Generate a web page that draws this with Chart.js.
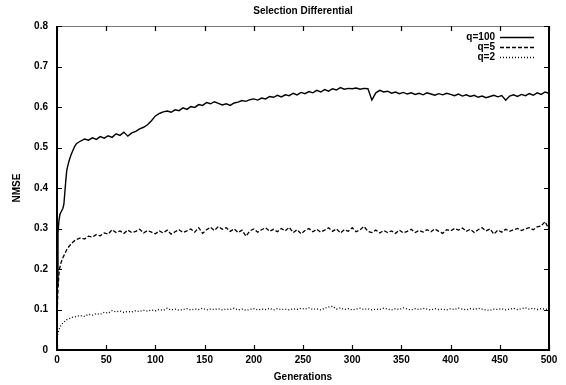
<!DOCTYPE html>
<html><head><meta charset="utf-8">
<script src="https://cdn.jsdelivr.net/npm/chart.js@4/dist/chart.umd.min.js"></script>
<style>html,body{margin:0;padding:0;background:#fff}</style>
</head><body>
<canvas id="c" width="566" height="385"></canvas>
<script>
const generations = [0,1,2,3,4,5,6,7,8,9,10,12,14,16,18,20,
24,28,32,36,40,44,48,52,56,60,
64,68,72,76,80,84,88,92,96,100,
104,108,112,116,120,124,128,132,136,140,
144,148,152,156,160,164,168,172,176,180,
184,188,192,196,200,204,208,212,216,220,
224,228,232,236,240,244,248,252,256,260,
264,268,272,276,280,284,288,292,296,300,
304,308,312,316,320,324,328,332,336,340,
344,348,352,356,360,364,368,372,376,380,
384,388,392,396,400,404,408,412,416,420,
424,428,432,436,440,444,448,452,456,460,
464,468,472,476,480,484,488,492,496,500];

const q100 = [0.16,0.29,0.32,0.335,0.34,0.345,0.35,0.36,0.39,0.42,0.445,0.465,0.48,0.492,0.503,0.51,
0.516,0.521,0.518,0.524,0.520,0.527,0.523,0.529,0.525,0.534,
0.530,0.538,0.528,0.536,0.540,0.546,0.550,0.556,0.566,0.578,
0.584,0.588,0.590,0.587,0.593,0.591,0.598,0.594,0.601,0.599,
0.606,0.604,0.611,0.608,0.613,0.609,0.605,0.608,0.604,0.610,
0.612,0.616,0.614,0.618,0.620,0.617,0.622,0.620,0.626,0.624,
0.629,0.625,0.630,0.628,0.634,0.630,0.636,0.633,0.638,0.635,
0.641,0.637,0.643,0.639,0.645,0.642,0.648,0.644,0.646,0.645,
0.647,0.644,0.646,0.645,0.617,0.635,0.641,0.637,0.639,0.634,
0.637,0.633,0.636,0.632,0.635,0.631,0.634,0.630,0.635,0.632,
0.629,0.633,0.630,0.634,0.631,0.628,0.632,0.627,0.630,0.626,
0.629,0.624,0.627,0.623,0.626,0.629,0.625,0.628,0.617,0.627,
0.630,0.626,0.631,0.628,0.633,0.629,0.635,0.631,0.637,0.634];

const q5 = [0.08,0.15,0.19,0.205,0.215,0.222,0.228,0.233,0.238,0.243,0.248,0.255,0.261,0.266,0.27,0.273,
0.277,0.274,0.281,0.279,0.285,0.282,0.289,0.286,0.297,0.290,
0.294,0.288,0.296,0.290,0.293,0.298,0.289,0.295,0.291,0.287,
0.294,0.289,0.296,0.286,0.292,0.297,0.290,0.294,0.299,0.291,
0.302,0.288,0.297,0.303,0.295,0.305,0.298,0.302,0.293,0.299,
0.290,0.296,0.281,0.294,0.299,0.291,0.297,0.302,0.293,0.298,
0.292,0.300,0.294,0.303,0.290,0.297,0.287,0.295,0.300,0.292,
0.298,0.291,0.296,0.302,0.293,0.299,0.289,0.297,0.293,0.302,
0.292,0.297,0.305,0.293,0.290,0.296,0.289,0.295,0.290,0.294,
0.288,0.296,0.289,0.293,0.298,0.290,0.295,0.291,0.297,0.292,
0.299,0.293,0.288,0.297,0.294,0.300,0.296,0.301,0.293,0.298,
0.290,0.297,0.302,0.294,0.299,0.286,0.296,0.291,0.298,0.293,
0.297,0.300,0.295,0.299,0.302,0.297,0.304,0.306,0.317,0.298];

const q2 = [0.03,0.042,0.05,0.056,0.06,0.064,0.067,0.069,0.071,0.073,0.075,0.077,0.079,0.081,0.082,0.083,
0.085,0.083,0.088,0.086,0.090,0.088,0.093,0.091,0.097,0.094,
0.096,0.093,0.095,0.094,0.097,0.095,0.098,0.096,0.099,0.097,
0.100,0.098,0.103,0.099,0.101,0.098,0.100,0.102,0.099,0.101,
0.100,0.103,0.099,0.101,0.100,0.102,0.099,0.101,0.100,0.103,
0.099,0.101,0.098,0.100,0.102,0.099,0.101,0.100,0.103,0.099,
0.102,0.100,0.101,0.099,0.102,0.100,0.103,0.101,0.104,0.100,
0.102,0.099,0.103,0.106,0.108,0.101,0.104,0.100,0.102,0.099,
0.101,0.103,0.100,0.102,0.099,0.101,0.100,0.103,0.101,0.099,
0.102,0.100,0.104,0.101,0.099,0.102,0.100,0.103,0.101,0.099,
0.102,0.100,0.101,0.099,0.102,0.100,0.103,0.101,0.099,0.102,
0.100,0.103,0.101,0.099,0.098,0.101,0.100,0.102,0.099,0.101,
0.103,0.100,0.102,0.104,0.101,0.103,0.100,0.102,0.101,0.100];

const xTicks = [0,50,100,150,200,250,300,350,400,450,500];
const yTicks = [0,0.1,0.2,0.3,0.4,0.5,0.6,0.7,0.8];
const seriesLabels = ['q=100','q=5','q=2'];
const chartTitle = 'Selection Differential';
const xTitle = 'Generations';
const yTitle = 'NMSE';

const FONT = '"Liberation Sans", Arial, sans-serif';
const dashes = [[], [4,2], [1,2]];
const widths = [1.4, 1.3, 1.3];
const seriesData = [q100, q5, q2];

const datasets = seriesData.map((arr, i) => ({
  label: seriesLabels[i],
  data: generations.map((g, j) => ({x: g, y: arr[j]})),
  borderColor: '#000',
  borderWidth: widths[i],
  borderDash: dashes[i],
  pointRadius: 0,
  tension: 0,
  fill: false
}));

const decor = {
  id: 'decor',
  afterDraw(chart) {
    const ctx = chart.ctx;
    const a = chart.chartArea;
    const xs = chart.scales.x, ys = chart.scales.y;
    ctx.save();
    ctx.strokeStyle = '#000';
    ctx.lineWidth = 2;
    ctx.beginPath();
    ctx.moveTo(a.left, a.top); ctx.lineTo(a.left, a.bottom); ctx.lineTo(a.right, a.bottom); ctx.lineTo(a.right, a.top);
    ctx.stroke();
    ctx.lineWidth = 1;
    ctx.strokeStyle = '#777';
    ctx.beginPath(); ctx.moveTo(a.left, a.top + 0.5); ctx.lineTo(a.right, a.top + 0.5); ctx.stroke();
    ctx.strokeStyle = '#000';
    ctx.lineWidth = 1.2;
    const tl = 5;
    ctx.beginPath();
    xTicks.forEach(v => {
      const px = Math.round(xs.getPixelForValue(v)) + 0.5;
      ctx.moveTo(px, a.bottom); ctx.lineTo(px, a.bottom - tl);
      ctx.moveTo(px, a.top); ctx.lineTo(px, a.top + tl);
    });
    yTicks.forEach(v => {
      const py = Math.round(ys.getPixelForValue(v)) + 0.5;
      ctx.moveTo(a.left, py); ctx.lineTo(a.left + tl, py);
      ctx.moveTo(a.right, py); ctx.lineTo(a.right - tl, py);
    });
    ctx.stroke();
    ctx.fillStyle = '#000';
    ctx.font = 'bold 10px ' + FONT;
    ctx.textAlign = 'center';
    ctx.textBaseline = 'middle';
    const cx = (a.left + a.right) / 2;
    ctx.fillText(chartTitle, cx, 11);
    ctx.fillText(xTitle, cx, 377);
    ctx.save();
    ctx.translate(17, (a.top + a.bottom) / 2);
    ctx.rotate(-Math.PI / 2);
    ctx.fillText(yTitle, 0, 0);
    ctx.restore();
    ctx.font = 'bold 10px ' + FONT;
    ctx.textAlign = 'right';
    const ly = [37, 47, 57];
    chart.data.datasets.forEach((ds, i) => {
      ctx.fillText(ds.label, 495, ly[i]);
      ctx.setLineDash(ds.borderDash);
      ctx.lineWidth = ds.borderWidth;
      ctx.beginPath();
      ctx.moveTo(500, ly[i] + 0.5); ctx.lineTo(534, ly[i] + 0.5);
      ctx.stroke();
    });
    ctx.setLineDash([]);
    ctx.restore();
  }
};

new Chart(document.getElementById('c'), {
  type: 'line',
  data: { datasets },
  options: {
    responsive: false,
    animation: false,
    devicePixelRatio: 1,
    layout: { padding: { top: 26, right: 17, left: 0, bottom: 0 } },
    plugins: { legend: { display: false }, title: { display: false }, tooltip: { enabled: false } },
    scales: {
      x: {
        type: 'linear', min: 0, max: 500,
        afterBuildTicks: s => { s.ticks = xTicks.map(v => ({ value: v })); },
        afterFit: s => { s.height = 35; },
        grid: { display: false, drawTicks: false },
        border: { display: false },
        ticks: { color: '#000', font: { family: FONT, size: 10, weight: 'bold' }, padding: 4, maxRotation: 0, autoSkip: false }
      },
      y: {
        type: 'linear', min: 0, max: 0.8,
        afterBuildTicks: s => { s.ticks = yTicks.map(v => ({ value: v })); },
        afterFit: s => { s.width = 57; },
        grid: { display: false, drawTicks: false },
        border: { display: false },
        ticks: { color: '#000', font: { family: FONT, size: 10, weight: 'bold' }, padding: 9,
          callback: v => String(Math.round(v * 10) / 10) }
      }
    }
  },
  plugins: [decor]
});
</script>
</body></html>
